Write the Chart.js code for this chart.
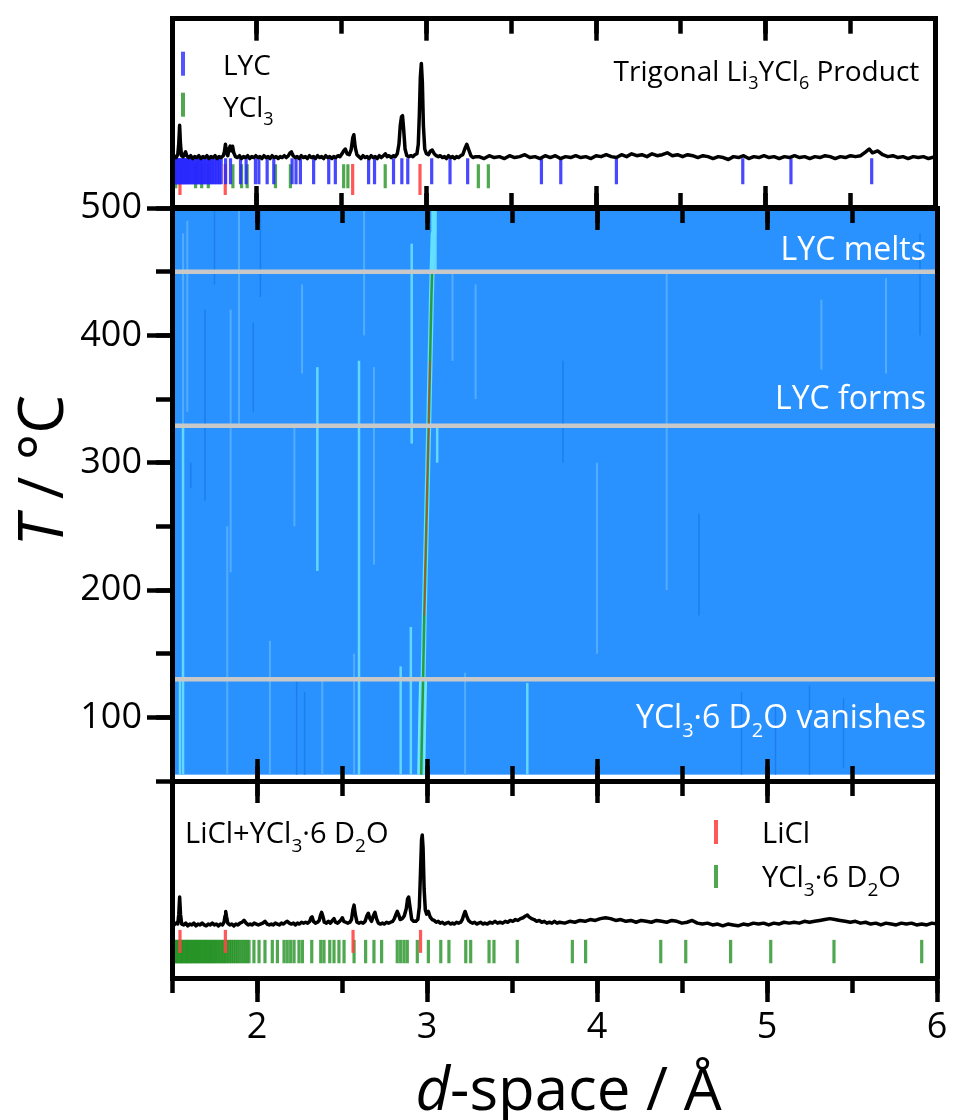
<!DOCTYPE html>
<html>
<head>
<meta charset="utf-8">
<script src="https://cdn.jsdelivr.net/npm/chart.js@4.4.1/dist/chart.umd.min.js"></script>
<style>
  html, body { margin: 0; padding: 0; background: #fff; }
  #wrap { position: relative; width: 954px; height: 1120px; }
  #wrap canvas { position: absolute; left: 0; top: 0; }
</style>
</head>
<body>
<div id="wrap">
  <canvas id="topPanel" width="954" height="1120"></canvas>
  <canvas id="heatPanel" width="954" height="1120"></canvas>
  <canvas id="bottomPanel" width="954" height="1120"></canvas>
</div>
<script>
// ---- data ----
const dRange = [1.5, 6];

// top: Li3YCl6 product pattern (d / A, intensity) + reflection markers
const productPattern = [
  [1.500,0.02],[1.512,0.03],[1.524,0.01],[1.534,0.04],[1.540,0.16],[1.545,0.35],[1.550,0.15],[1.556,0.03],[1.566,0.02],[1.574,0.05],
  [1.580,0.07],[1.587,0.03],[1.598,0.01],[1.610,0.03],[1.622,0.00],[1.634,0.02],[1.646,0.01],[1.658,0.03],[1.670,0.00],[1.682,0.02],
  [1.694,0.01],[1.706,0.03],[1.718,0.00],[1.730,0.02],[1.742,0.01],[1.754,0.03],[1.766,0.00],[1.778,0.02],[1.790,0.01],[1.802,0.03],
  [1.809,0.07],[1.815,0.15],[1.821,0.06],[1.829,0.03],[1.836,0.10],[1.843,0.13],[1.850,0.08],[1.857,0.13],[1.864,0.06],[1.874,0.02],
  [1.886,0.01],[1.898,0.03],[1.910,0.00],[1.922,0.02],[1.934,0.01],[1.946,0.03],[1.958,0.00],[1.970,0.02],[1.982,0.01],[1.994,0.03],
  [2.006,0.01],[2.018,0.02],[2.030,0.00],[2.042,0.03],[2.054,0.01],[2.066,0.02],[2.078,0.00],[2.090,0.03],[2.102,0.01],[2.114,0.02],
  [2.126,0.00],[2.138,0.02],[2.150,0.01],[2.162,0.03],[2.174,0.01],[2.186,0.03],[2.196,0.06],[2.204,0.07],[2.214,0.03],[2.226,0.01],
  [2.238,0.02],[2.250,0.00],[2.262,0.03],[2.274,0.01],[2.286,0.02],[2.298,0.00],[2.310,0.03],[2.322,0.01],[2.334,0.02],[2.346,0.00],
  [2.358,0.03],[2.370,0.01],[2.382,0.02],[2.394,0.00],[2.406,0.03],[2.418,0.01],[2.430,0.02],[2.442,0.00],[2.454,0.02],[2.466,0.01],
  [2.478,0.03],[2.490,0.02],[2.502,0.05],[2.512,0.08],[2.522,0.10],[2.532,0.05],[2.545,0.04],[2.556,0.09],[2.566,0.22],[2.572,0.25],
  [2.580,0.12],[2.590,0.04],[2.602,0.02],[2.614,0.00],[2.626,0.03],[2.638,0.01],[2.650,0.02],[2.662,0.00],[2.674,0.03],[2.686,0.01],
  [2.698,0.02],[2.710,0.00],[2.722,0.03],[2.734,0.01],[2.746,0.03],[2.758,0.05],[2.768,0.02],[2.780,0.03],[2.792,0.01],[2.804,0.03],
  [2.816,0.02],[2.828,0.05],[2.838,0.15],[2.846,0.35],[2.853,0.44],[2.859,0.45],[2.866,0.30],[2.874,0.10],[2.884,0.03],[2.896,0.02],
  [2.908,0.03],[2.920,0.02],[2.932,0.04],[2.944,0.05],[2.952,0.15],[2.958,0.45],[2.964,0.85],[2.970,1.00],[2.976,0.80],[2.982,0.35],
  [2.990,0.10],[3.000,0.05],[3.012,0.04],[3.024,0.08],[3.034,0.09],[3.046,0.05],[3.058,0.03],[3.070,0.02],[3.082,0.03],[3.094,0.01],
  [3.106,0.02],[3.118,0.00],[3.130,0.03],[3.142,0.01],[3.154,0.02],[3.166,0.00],[3.178,0.02],[3.190,0.01],[3.202,0.03],[3.214,0.04],
  [3.226,0.10],[3.238,0.15],[3.250,0.09],[3.262,0.03],[3.274,0.01],[3.290,0.02],[3.31,0.02],[3.34,0.00],[3.37,0.03],[3.40,0.01],
  [3.43,0.02],[3.46,0.00],[3.49,0.03],[3.52,0.01],[3.55,0.02],[3.58,0.04],[3.61,0.01],[3.64,0.02],[3.67,0.00],[3.70,0.03],
  [3.73,0.01],[3.76,0.03],[3.79,0.00],[3.82,0.02],[3.85,0.01],[3.88,0.03],[3.91,0.01],[3.94,0.02],[3.97,0.00],[4.00,0.03],
  [4.03,0.02],[4.06,0.04],[4.09,0.02],[4.12,0.01],[4.15,0.04],[4.18,0.02],[4.21,0.05],[4.24,0.03],[4.27,0.04],[4.30,0.02],
  [4.33,0.05],[4.36,0.03],[4.39,0.04],[4.42,0.06],[4.45,0.03],[4.48,0.04],[4.51,0.02],[4.54,0.04],[4.57,0.03],[4.60,0.01],
  [4.63,0.03],[4.66,0.02],[4.69,0.00],[4.72,0.02],[4.75,0.01],[4.78,-0.01],[4.81,0.02],[4.84,0.01],[4.87,0.03],[4.90,0.00],
  [4.93,0.02],[4.96,0.01],[4.99,0.03],[5.02,0.01],[5.05,0.02],[5.08,0.00],[5.11,0.02],[5.14,0.01],[5.17,0.03],[5.20,0.01],
  [5.23,0.02],[5.26,0.00],[5.29,0.02],[5.32,0.01],[5.35,0.03],[5.38,0.02],[5.41,0.00],[5.44,0.02],[5.47,0.01],[5.50,0.03],
  [5.53,0.02],[5.56,0.03],[5.59,0.07],[5.61,0.10],[5.63,0.06],[5.66,0.08],[5.69,0.04],[5.72,0.02],[5.75,0.03],[5.78,0.01],
  [5.81,0.02],[5.84,0.00],[5.87,0.02],[5.90,0.01],[5.93,0.02],[5.96,0.00],[6.00,0.02]
];
const lycPeaks = [
  1.505,1.512,1.519,1.526,1.533,1.540,1.547,1.554,1.561,1.568,1.575,1.582,1.589,1.596,1.604,1.612,1.620,1.628,
  1.636,1.644,1.652,1.660,1.668,1.677,1.686,1.695,1.704,1.713,1.722,1.731,1.740,1.750,1.760,1.770,1.780,1.790,
  1.816,1.845,1.904,1.937,1.992,2.012,2.061,2.100,2.208,2.231,2.257,2.335,2.424,2.463,2.659,2.694,2.806,2.855,
  2.890,3.031,3.139,3.243,3.678,3.792,4.120,4.865,5.149,5.625
];
const ycl3Peaks = [1.522,1.639,1.675,1.714,1.859,1.910,1.943,2.110,2.198,2.512,2.537,2.757,3.306,3.365];
const liclPeaks = [1.547,1.814,2.565,2.962];

// middle: temperature map (T / degC)
const heatT = [55, 500];
const mainPeakD = [2.966, 2.972, 2.977, 2.984, 2.990, 2.998, 3.005, 3.010, 3.018, 3.026, 3.030, 3.036, 3.040];
const mainPeakT = [55, 100, 130, 180, 215, 260, 300, 329, 380, 430, 450, 480, 500];
// streaks: [d, T from, T to]
const brightStreaks = [
  [1.565,55,330],[1.547,55,130],[2.355,215,375],[2.910,315,472],[2.905,55,171],[2.600,55,380],
  [2.845,55,140],[3.060,300,330],[3.590,55,127],[3.050,450,500]
];
const paleStreaks = [
  [1.565,330,480],[1.894,330,500],[1.845,214,420],[1.825,55,250],[2.265,370,440],[2.220,250,330],
  [2.076,55,160],[2.384,55,130],[2.688,220,375],[2.571,55,150],[2.630,400,500],[3.150,380,450],
  [3.286,350,440],[3.224,55,135],[5.320,373,428],[5.700,370,445],[4.410,200,450],[4.000,150,300],[1.590,340,490]
];
const darkStreaks = [
  [1.694,270,420],[1.978,340,410],[2.233,55,130],[2.280,55,120],[1.610,280,300],[4.850,55,120],[5.050,55,110],
  [5.250,55,125],[5.450,60,115],[4.600,180,260],[3.800,300,380],[5.900,400,480],[2.020,430,500],[1.750,440,500]
];
const eventT = [450, 329, 130];

// bottom: LiCl + YCl3.6D2O starting pattern + markers
const startPattern = [
  [1.500,0.02],[1.512,0.00],[1.524,0.02],[1.534,0.01],[1.540,0.12],[1.545,0.31],[1.550,0.12],[1.557,0.01],[1.569,0.00],[1.581,0.02],
  [1.593,-0.01],[1.605,0.01],[1.617,0.00],[1.629,0.02],[1.641,-0.01],[1.653,0.01],[1.665,0.00],[1.677,0.02],[1.689,0.00],[1.701,-0.01],
  [1.713,0.01],[1.725,0.00],[1.737,0.02],[1.749,0.00],[1.761,0.01],[1.773,-0.01],[1.785,0.01],[1.797,0.00],[1.806,0.03],[1.812,0.10],
  [1.816,0.15],[1.821,0.09],[1.828,0.02],[1.840,0.00],[1.852,0.01],[1.864,-0.01],[1.876,0.01],[1.888,0.00],[1.900,0.02],[1.912,0.03],
  [1.924,0.05],[1.936,0.02],[1.948,0.00],[1.960,0.01],[1.972,0.00],[1.984,0.02],[1.996,0.01],[2.008,0.00],[2.020,0.01],[2.034,0.02],
  [2.047,0.04],[2.060,0.01],[2.072,0.00],[2.084,0.01],[2.096,0.00],[2.108,0.02],[2.120,0.01],[2.132,0.00],[2.144,0.02],[2.156,0.01],
  [2.168,0.03],[2.178,0.04],[2.190,0.02],[2.202,0.01],[2.214,0.02],[2.226,0.00],[2.238,0.02],[2.250,0.01],[2.262,0.03],[2.274,0.02],
  [2.286,0.03],[2.298,0.02],[2.310,0.04],[2.318,0.08],[2.324,0.09],[2.332,0.04],[2.344,0.02],[2.356,0.03],[2.366,0.05],[2.374,0.11],
  [2.380,0.14],[2.387,0.10],[2.396,0.03],[2.408,0.02],[2.420,0.04],[2.432,0.02],[2.444,0.05],[2.453,0.07],[2.462,0.03],[2.474,0.02],
  [2.486,0.04],[2.496,0.06],[2.502,0.08],[2.510,0.04],[2.522,0.03],[2.534,0.02],[2.546,0.03],[2.556,0.06],[2.564,0.17],[2.571,0.22],
  [2.578,0.12],[2.588,0.03],[2.600,0.02],[2.612,0.03],[2.624,0.02],[2.636,0.04],[2.646,0.10],[2.655,0.13],[2.664,0.07],[2.674,0.04],
  [2.684,0.10],[2.694,0.14],[2.703,0.07],[2.714,0.02],[2.726,0.01],[2.738,0.02],[2.750,0.01],[2.762,0.03],[2.774,0.02],[2.786,0.03],
  [2.798,0.04],[2.808,0.07],[2.818,0.12],[2.825,0.15],[2.832,0.12],[2.842,0.06],[2.854,0.07],[2.866,0.10],[2.878,0.18],[2.886,0.29],
  [2.892,0.31],[2.900,0.20],[2.910,0.06],[2.922,0.04],[2.934,0.04],[2.946,0.06],[2.955,0.20],[2.962,0.60],[2.968,0.95],[2.972,1.00],
  [2.977,0.85],[2.983,0.40],[2.990,0.17],[2.998,0.12],[3.008,0.15],[3.018,0.09],[3.030,0.06],[3.042,0.05],[3.054,0.03],[3.066,0.04],
  [3.078,0.02],[3.090,0.03],[3.102,0.01],[3.114,0.02],[3.126,0.03],[3.138,0.01],[3.150,0.02],[3.162,0.01],[3.174,0.03],[3.186,0.02],
  [3.198,0.03],[3.208,0.06],[3.216,0.11],[3.224,0.15],[3.233,0.10],[3.244,0.05],[3.256,0.03],[3.268,0.02],[3.280,0.03],[3.292,0.01],
  [3.304,0.02],[3.316,0.03],[3.328,0.01],[3.340,0.02],[3.355,0.01],[3.370,0.03],[3.385,0.02],[3.400,0.04],[3.415,0.02],[3.430,0.03],
  [3.445,0.02],[3.460,0.04],[3.475,0.03],[3.490,0.05],[3.505,0.04],[3.520,0.06],[3.535,0.05],[3.550,0.07],[3.565,0.08],[3.580,0.10],
  [3.590,0.11],[3.600,0.09],[3.615,0.07],[3.630,0.06],[3.645,0.04],[3.660,0.05],[3.675,0.03],[3.690,0.04],[3.705,0.02],[3.720,0.03],
  [3.735,0.02],[3.750,0.04],[3.765,0.02],[3.780,0.03],[3.81,0.02],[3.84,0.04],[3.87,0.03],[3.90,0.05],[3.93,0.04],[3.96,0.06],
  [3.99,0.05],[4.02,0.07],[4.05,0.08],[4.08,0.07],[4.11,0.05],[4.14,0.06],[4.17,0.04],[4.20,0.05],[4.23,0.03],[4.26,0.05],
  [4.29,0.04],[4.32,0.03],[4.35,0.05],[4.38,0.04],[4.41,0.03],[4.44,0.05],[4.47,0.04],[4.50,0.02],[4.53,0.03],[4.56,0.05],
  [4.59,0.02],[4.62,0.01],[4.65,0.02],[4.68,0.00],[4.71,0.01],[4.74,-0.01],[4.77,0.01],[4.80,0.00],[4.83,-0.01],[4.86,0.01],
  [4.89,0.00],[4.92,0.02],[4.95,0.01],[4.98,0.02],[5.01,0.00],[5.04,0.02],[5.07,0.01],[5.10,0.03],[5.13,0.02],[5.16,0.03],
  [5.19,0.02],[5.22,0.04],[5.25,0.03],[5.28,0.04],[5.31,0.05],[5.34,0.06],[5.37,0.07],[5.40,0.06],[5.43,0.05],[5.46,0.04],
  [5.49,0.03],[5.52,0.04],[5.55,0.02],[5.58,0.03],[5.61,0.01],[5.64,0.02],[5.67,0.00],[5.70,0.02],[5.73,0.01],[5.76,0.00],
  [5.79,0.02],[5.82,0.01],[5.85,0.02],[5.88,0.00],[5.91,0.01],[5.94,0.00],[5.97,0.02],[6.00,0.01]
];
const hydratePeaks = [
  1.505,1.512,1.520,1.527,1.535,1.541,1.550,1.556,1.563,1.570,1.578,1.585,1.592,1.600,1.607,1.615,1.622,1.630,
  1.637,1.645,1.652,1.660,1.668,1.676,1.684,1.692,1.700,1.708,1.716,1.724,1.732,1.740,1.749,1.757,1.766,1.775,
  1.784,1.793,1.802,1.811,1.820,1.830,1.840,1.850,1.861,1.872,1.883,1.894,1.906,1.918,1.930,1.942,
  1.953,1.982,2.012,2.047,2.090,2.120,2.159,2.178,2.198,2.218,2.247,2.267,2.322,2.375,2.394,2.428,2.453,2.482,
  2.512,2.571,2.639,2.688,2.733,2.825,2.845,2.865,2.884,2.943,3.008,3.081,3.129,3.228,3.257,3.365,3.394,3.531,
  3.855,3.933,4.375,4.522,4.786,5.022,5.394,5.910
];

// ---- look ----
const FONT = "'Open Sans', 'Noto Sans', 'DejaVu Sans', sans-serif";
const INK = '#000';
const HEAT_BLUE = '#2a92ff';
const GREY = '#c8c8c8';
const BLUE = 'rgba(40,40,255,0.85)';
const GREEN = 'rgba(35,145,35,0.8)';
const RED = 'rgba(255,70,70,0.9)';
const PAGE_W = 954, PAGE_H = 1120;
const PLOT_L = 172, PLOT_R = 937;

Chart.defaults.font.family = FONT;
Chart.defaults.color = INK;

function lineSet(pts, color, width) {
  return {data: pts.map(p => ({x: p[0], y: p[1]})), showLine: true, borderColor: color,
          borderWidth: width, pointRadius: 0, borderJoinStyle: 'round'};
}
function markSet(ds, centre, half, color) {
  return {data: ds.map(d => ({x: d, y: centre})), showLine: false, pointStyle: 'line',
          pointRotation: 90, pointRadius: half, pointBorderColor: color, pointBorderWidth: 3.2};
}
function streakSets(list, color, width) {
  return list.map(s => lineSet([[s[0], s[1]], [s[0], s[2]]], color, width));
}

// rich text with subscripts / italics: parts = [[text, ''|'sub'|'it'], ...]
function drawRich(ctx, parts, x, y, size, align, color, angle) {
  const fontFor = s => (s === 'it' ? 'italic ' : '') + Math.round(s === 'sub' ? size * 0.64 : size) + 'px ' + FONT;
  ctx.save();
  ctx.translate(x, y);
  if (angle) ctx.rotate(angle);
  let total = 0;
  for (const [t, s] of parts) { ctx.font = fontFor(s); total += ctx.measureText(t).width; }
  let cx = align === 'right' ? -total : align === 'center' ? -total / 2 : 0;
  ctx.fillStyle = color;
  ctx.textAlign = 'left';
  ctx.textBaseline = 'alphabetic';
  for (const [t, s] of parts) {
    ctx.font = fontFor(s);
    ctx.fillText(t, cx, s === 'sub' ? size * 0.3 : 0);
    cx += ctx.measureText(t).width;
  }
  ctx.restore();
}
function legendMark(ctx, x, y1, y2, color) {
  ctx.save();
  ctx.strokeStyle = color; ctx.lineWidth = 4;
  ctx.beginPath(); ctx.moveTo(x, y1); ctx.lineTo(x, y2); ctx.stroke();
  ctx.restore();
}

// frame: border on four sides, inward ticks on top/bottom (major + minor axes)
function xTickAxis(pos, major, len, size, extra) {
  return Object.assign({
    type: 'linear', axis: 'x', position: pos, min: dRange[0], max: dRange[1], weight: major ? 1 : 0,
    ticks: {display: false, stepSize: major ? 1 : 0.5, includeBounds: false},
    grid: {drawOnChartArea: false, tickLength: len, tickWidth: 4.5, tickColor: INK, z: 2},
    border: major ? {display: true, width: 5, color: INK, z: 2} : {display: false},
    afterFit: s => { s.height = size; }
  }, extra || {});
}
function sideAxis(pos, min, max, size) {
  return {
    type: 'linear', axis: 'y', position: pos, min: min, max: max, weight: 1,
    ticks: {display: false}, grid: {display: false, drawTicks: false},
    border: {display: true, width: 5, color: INK, z: 2},
    afterFit: s => { s.width = size; }
  };
}
function frameScales(topPx, botPx, ymin, ymax) {
  return {
    x: xTickAxis('bottom', true, -22, PAGE_H - botPx),
    xm: xTickAxis('bottom', false, -15, 0),
    xt: xTickAxis('top', true, -22, topPx),
    xtm: xTickAxis('top', false, -15, 0),
    y: sideAxis('left', ymin, ymax, PLOT_L),
    yr: sideAxis('right', ymin, ymax, PAGE_W - PLOT_R)
  };
}
function baseOptions(scales) {
  return {
    responsive: false, animation: false, devicePixelRatio: 1, events: [],
    layout: {padding: 0},
    plugins: {legend: {display: false}, tooltip: {enabled: false}},
    scales: scales
  };
}

// ---- top panel ----
new Chart(document.getElementById('topPanel'), {
  type: 'scatter',
  data: {datasets: [
    lineSet(productPattern, INK, 3.5),
    markSet(lycPeaks, -0.134, 13, BLUE),
    markSet(ycl3Peaks, -0.186, 12, GREEN),
    markSet(liclPeaks, -0.22, 15.5, RED)
  ]},
  options: baseOptions(frameScales(15, 208, -0.52, 1.47)),
  plugins: [{
    id: 'topText',
    afterDraw(chart) {
      const {ctx, chartArea: a} = chart;
      drawRich(ctx, [['Trigonal Li', ''], ['3', 'sub'], ['YCl', ''], ['6', 'sub'], [' Product', '']],
        a.right - 16, a.top + 62, 28, 'right', INK);
      legendMark(ctx, a.left + 11, a.top + 33, a.top + 57, 'rgba(40,40,255,0.8)');
      legendMark(ctx, a.left + 11, a.top + 74, a.top + 98, 'rgba(35,145,35,0.8)');
      drawRich(ctx, [['LYC', '']], a.left + 51, a.top + 56, 28, 'left', INK);
      drawRich(ctx, [['YCl', ''], ['3', 'sub']], a.left + 51, a.top + 98, 28, 'left', INK);
    }
  }]
});

// ---- heat map panel ----
const peakPts = mainPeakD.map((d, i) => [d, mainPeakT[i]]);
const heatPaint = [].concat(
  streakSets(darkStreaks, '#1d7cee', 1.5),
  streakSets(paleStreaks, '#52adff', 2),
  streakSets(brightStreaks, '#66d6ff', 2.5),
  [lineSet(peakPts.filter(p => p[1] <= 135), '#70eaff', 8),
   lineSet(peakPts, '#62e0ff', 5),
   lineSet(peakPts.filter(p => p[1] <= 455), '#2e9a3e', 2.5),
   lineSet(peakPts.filter(p => p[1] >= 170 && p[1] <= 390), '#c8461e', 1.2)],
  eventT.map(t => lineSet([[dRange[0], t], [dRange[1], t]], GREY, 4.5))
);
const heatScales = frameScales(208, 781, 50, 500);
heatScales.y = {
  type: 'linear', axis: 'y', position: 'left', min: 50, max: 500, weight: 1,
  ticks: {stepSize: 100, includeBounds: false, padding: 5, font: {size: 36}, color: INK},
  grid: {drawOnChartArea: false, tickLength: 25, tickWidth: 4.5, tickColor: INK},
  border: {display: true, width: 5, color: INK, z: 2},
  afterFit: s => { s.width = PLOT_L; }
};
heatScales.ym = {
  type: 'linear', axis: 'y', position: 'left', min: 50, max: 500, weight: 0,
  ticks: {display: false, stepSize: 50, includeBounds: false},
  grid: {drawOnChartArea: false, tickLength: 16, tickWidth: 4.5, tickColor: INK},
  border: {display: false},
  afterFit: s => { s.width = 0; }
};
const eventLabels = [
  {parts: [['LYC melts', '']], T: 459},
  {parts: [['LYC forms', '']], T: 342},
  {parts: [['YCl', ''], ['3', 'sub'], ['·6 D', ''], ['2', 'sub'], ['O vanishes', '']], T: 92}
];
new Chart(document.getElementById('heatPanel'), {
  type: 'scatter',
  data: {datasets: heatPaint.slice().reverse()},
  options: baseOptions(heatScales),
  plugins: [{
    id: 'heatMap',
    beforeDatasetsDraw(chart) {
      const {ctx, scales: {x, y}} = chart;
      const l = x.getPixelForValue(dRange[0]), r = x.getPixelForValue(dRange[1]);
      const t = y.getPixelForValue(heatT[1]), b = y.getPixelForValue(heatT[0]);
      ctx.save();
      ctx.fillStyle = HEAT_BLUE;
      ctx.fillRect(l, t, r - l, b - t);
      ctx.restore();
    },
    afterDraw(chart) {
      const {ctx, chartArea: a, scales: {y}} = chart;
      eventLabels.forEach(e => drawRich(ctx, e.parts, a.right - 11, y.getPixelForValue(e.T), 32, 'right', '#fff'));
      drawRich(ctx, [['T', 'it'], [' / °C', '']], 63, (a.top + a.bottom) / 2 - 24, 62, 'center', INK, -Math.PI / 2);
    }
  }]
});

// ---- bottom panel ----
const botScales = frameScales(781, 978, -0.59, 1.6);
botScales.x = xTickAxis('bottom', true, 24, PAGE_H - 978, {
  ticks: {display: true, stepSize: 1, includeBounds: false, padding: 4, font: {size: 36}, color: INK}
});
botScales.xm = xTickAxis('bottom', false, 15, 0);
new Chart(document.getElementById('bottomPanel'), {
  type: 'scatter',
  data: {datasets: [
    lineSet(startPattern, INK, 3.5),
    markSet(liclPeaks, -0.183, 11.5, RED),
    markSet(hydratePeaks, -0.296, 11.7, GREEN)
  ]},
  options: baseOptions(botScales),
  plugins: [{
    id: 'bottomText',
    afterDraw(chart) {
      const {ctx, chartArea: a} = chart;
      drawRich(ctx, [['LiCl+YCl', ''], ['3', 'sub'], ['·6 D', ''], ['2', 'sub'], ['O', '']],
        a.left + 13, a.top + 62, 29, 'left', INK);
      legendMark(ctx, a.left + 544, a.top + 39, a.top + 63, 'rgba(255,70,70,0.9)');
      legendMark(ctx, a.left + 544, a.top + 84, a.top + 107, 'rgba(35,145,35,0.8)');
      drawRich(ctx, [['LiCl', '']], a.left + 590, a.top + 62, 29, 'left', INK);
      drawRich(ctx, [['YCl', ''], ['3', 'sub'], ['·6 D', ''], ['2', 'sub'], ['O', '']], a.left + 590, a.top + 106, 29, 'left', INK);
      drawRich(ctx, [['d', 'it'], ['-space / Å', '']], (a.left + a.right) / 2 + 14, 1110, 60, 'center', INK);
    }
  }]
});
</script>
</body>
</html>
